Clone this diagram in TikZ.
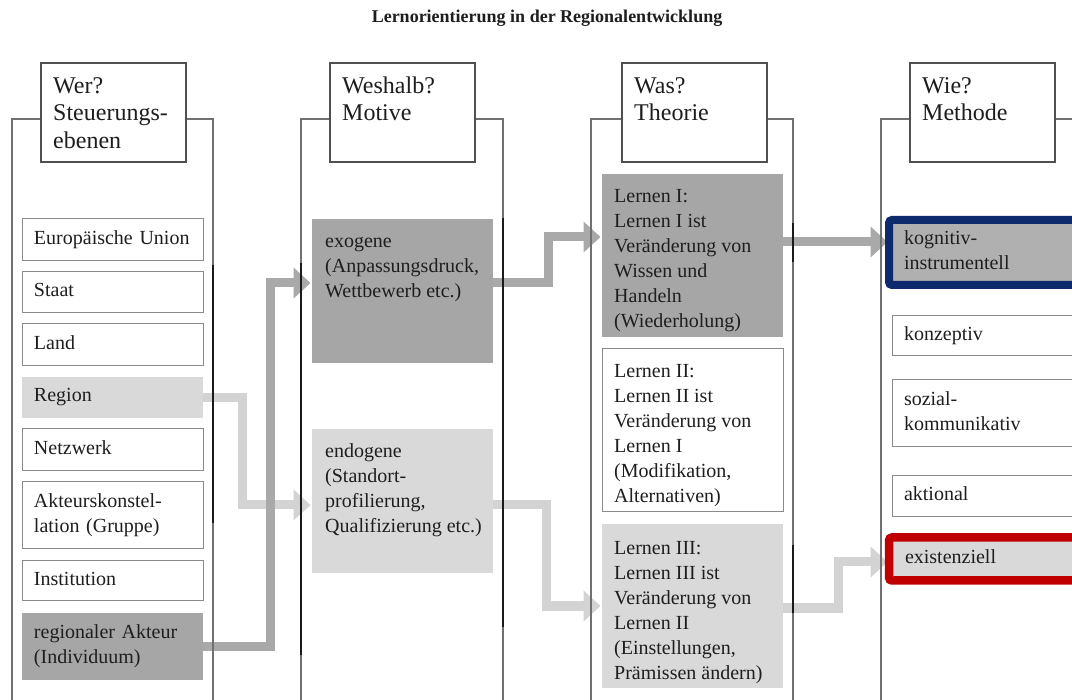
\documentclass[tikz,border=0pt]{standalone}
\usepackage{fontspec}
\setmainfont{Liberation Serif}
\usetikzlibrary{arrows.meta}
\definecolor{framegray}{HTML}{707070}
\definecolor{hdrgray}{HTML}{505050}
\definecolor{boxgray}{HTML}{8A8A8A}
\definecolor{darkfill}{HTML}{A6A6A6}
\definecolor{lightfill}{HTML}{D9D9D9}
\definecolor{kogfill}{HTML}{B0B0B0}
\definecolor{navyb}{HTML}{0C2A6C}
\definecolor{redb}{HTML}{C00000}
\definecolor{arrdark}{HTML}{A9A9A9}
\definecolor{arrlight}{HTML}{D3D3D3}
\definecolor{txt}{HTML}{1E1E1E}
\definecolor{segdark}{HTML}{1A1A1A}
\newcommand{\boxstrut}{\rule[-5.5pt]{0pt}{19.5pt}}
\pgfdeclarelayer{bg}
\pgfdeclarelayer{arrowlayer}
\pgfsetlayers{bg,arrowlayer,main}
\tikzset{
  frame/.style={draw=framegray, line width=1.2pt},
  darkseg/.style={draw=segdark, line width=1.8pt},
  hdr/.style={draw=hdrgray, line width=1.3pt, fill=white, inner sep=0pt, outer sep=0pt,
    minimum width=145pt, minimum height=99pt, anchor=north west},
  hdrtxt/.style={anchor=north west, inner sep=0pt, align=left, text=txt,
    font=\fontsize{24}{27.5}\selectfont},
  sbox/.style={draw=boxgray, line width=1pt, fill=white, inner xsep=12pt, inner ysep=0pt,
    outer sep=0pt, text width=157pt, align=left, minimum height=42pt, anchor=north west,
    text=txt, font=\fontsize{20}{25}\selectfont,
    execute at begin node=\boxstrut, execute at end node=\boxstrut},
  tbox/.style={inner sep=0pt, outer sep=0pt, minimum width=181pt, anchor=north west},
  ttxt/.style={anchor=north west, inner sep=0pt, align=left, text=txt,
    font=\fontsize{20}{25}\selectfont},
  arrD/.style={draw=arrdark, line width=9pt, shorten >=1.5pt,
    -{Triangle[length=17pt,width=30pt]}},
  arrL/.style={draw=arrlight, line width=9pt, shorten >=1.5pt,
    -{Triangle[length=17pt,width=30pt]}},
}
\begin{document}
\begin{tikzpicture}[x=1pt,y=-1pt]
\useasboundingbox (0,0) rectangle (1072,700);
\clip (0,0) rectangle (1072,700);
\begin{pgfonlayer}{bg}
\fill[white] (0,0) rectangle (1072,700);
\end{pgfonlayer}

% title
\node[font=\bfseries\fontsize{18}{20}\selectfont, text=txt, inner sep=0pt] (title) at (547,18)
  {Lernorientierung in der Regionalentwicklung};

% column frames
\draw[frame] (12,705) |- (213,119) -- (213,705);
\draw[darkseg] (213,265) -- (213,523);
\draw[frame] (301,705) |- (503,119) -- (503,705);
\draw[darkseg] (301,263) -- (301,655);
\draw[darkseg] (503,218) -- (503,627);
\draw[frame] (591,705) |- (793,119) -- (793,705);
\draw[darkseg] (793,223) -- (793,262);
\draw[darkseg] (793,545) -- (793,613);
\draw[frame] (881,705) |- (1080,119);

% headers
\node[hdr] (h1) at (41,63) {};
\node[hdrtxt] (h1t) at ([xshift=12pt,yshift=-10.75pt]h1.north west) {\strut Wer?\\Steuerungs-\\ebenen};
\node[hdr] (h2) at (330,63) {};
\node[hdrtxt] (h2t) at ([xshift=12pt,yshift=-10.75pt]h2.north west) {\strut Weshalb?\\Motive};
\node[hdr] (h3) at (622,63) {};
\node[hdrtxt] (h3t) at ([xshift=12pt,yshift=-10.75pt]h3.north west) {\strut Was?\\Theorie};
\node[hdr] (h4) at (910,63) {};
\node[hdrtxt] (h4t) at ([xshift=12pt,yshift=-10.75pt]h4.north west) {\strut Wie?\\Methode};

% column 1: Steuerungsebenen
\node[sbox] (eu) at (22,219) {Europäische Union};
\node[sbox, minimum height=41pt] (staat) at (22,272) {Staat};
\node[sbox] (land) at (22,324) {Land};
\node[sbox, draw=none, fill=lightfill, minimum height=41pt] (region) at (22,377) {Region};
\node[sbox] (netz) at (22,429) {Netzwerk};
\node[sbox, minimum height=67pt] (konst) at (22,482) {Akteurskonstel-\\lation (Gruppe)};
\node[sbox, minimum height=40pt] (inst) at (22,561) {Institution};
\node[sbox, draw=none, fill=darkfill, minimum height=67pt] (akteur) at (22,613) {regionaler Akteur\\(Individuum)};

% column 2: Motive
\node[tbox, fill=darkfill, minimum height=144pt] (exo) at (312,219) {};
\node[ttxt] (exot) at ([xshift=13pt,yshift=-10.5pt]exo.north west)
  {\strut exogene\\(Anpassungsdruck,\\Wettbewerb etc.)};
\node[tbox, fill=lightfill, minimum height=144pt] (endo) at (312,429) {};
\node[ttxt] (endot) at ([xshift=13pt,yshift=-10.5pt]endo.north west)
  {\strut endogene\\(Standort-\\profilierung,\\Qualifizierung etc.)};

% column 3: Theorie
\node[tbox, fill=darkfill, minimum height=163pt] (lern1) at (602,174) {};
\node[ttxt] (lern1t) at ([xshift=12pt,yshift=-10.5pt]lern1.north west)
  {\strut Lernen I:\\Lernen I ist\\Veränderung von\\Wissen und\\Handeln\\(Wiederholung)};
\node[tbox, draw=boxgray, line width=1pt, fill=white, minimum height=163pt] (lern2) at (602,349) {};
\node[ttxt] (lern2t) at ([xshift=12pt,yshift=-10.5pt]lern2.north west)
  {\strut Lernen II:\\Lernen II ist\\Veränderung von\\Lernen I\\(Modifikation,\\Alternativen)};
\node[tbox, fill=lightfill, minimum height=164pt] (lern3) at (602,524) {};
\node[ttxt] (lern3t) at ([xshift=12pt,yshift=-12.5pt]lern3.north west)
  {\strut Lernen III:\\Lernen III ist\\Veränderung von\\Lernen II\\(Einstellungen,\\Prämissen ändern)};

% column 4: Methode
\node[sbox, draw=navyb, line width=8pt, fill=kogfill, rounded corners=3pt,
  minimum height=65pt, inner xsep=15pt, text width=170pt] (kog) at (889,220)
  {kognitiv-\\instrumentell};
\node[sbox, minimum height=40pt, text width=176pt] (konz) at (892,316) {konzeptiv};
\node[sbox, minimum height=67pt, text width=176pt] (sozial) at (892,380) {sozial-\\kommunikativ};
\node[sbox, minimum height=41pt, text width=176pt] (akt) at (892,476) {aktional};
\node[sbox, draw=redb, line width=8.5pt, fill=lightfill, rounded corners=3pt,
  minimum height=43pt, inner xsep=16pt, text width=168pt] (exi) at (889,537.5)
  {existenziell};

% connectors
\begin{pgfonlayer}{arrowlayer}
\draw[arrL] (region.east) -| ([xshift=-70pt,yshift=-4pt]endo.west) -- ([yshift=-4pt]endo.west);
\draw[arrD] (akteur.east) -| ([xshift=-42pt,yshift=8pt]exo.west) -- ([yshift=8pt]exo.west);
\draw[arrL] ([yshift=-4pt]endo.east) -| ([xshift=-56pt]lern3.west) -- (lern3.west);
\draw[arrD] ([yshift=8pt]exo.east) -| ([xshift=-54pt,yshift=18.5pt]lern1.west) -- ([yshift=18.5pt]lern1.west);
\draw[arrD] ([yshift=13.5pt]lern1.east) -- ([yshift=10.5pt]kog.west);
\draw[arrL] ([yshift=-2pt]lern3.east) -| ([xshift=-51pt,yshift=-3pt]exi.west) -- ([yshift=-3pt]exi.west);
\end{pgfonlayer}
\end{tikzpicture}
\end{document}
